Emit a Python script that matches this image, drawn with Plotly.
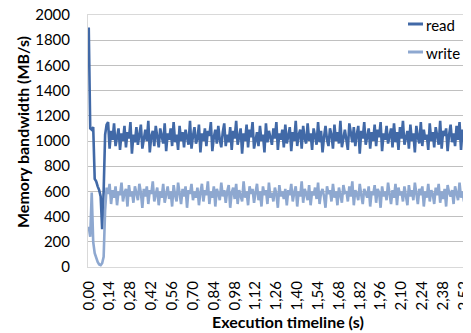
import plotly.graph_objects as go

SAMPLE_STEP = 0.01  # seconds between samples

read_mbps = [
    1900, 1100, 1090, 1110, 700, 680, 640, 610, 560, 300, 600, 1050, 1130,
    1150, 940, 1080, 1010, 1140, 960, 1040, 1100, 930, 1060, 1000, 1120, 950, 1070, 1020, 1150, 900, 1050, 990, 1110,
    970, 1060, 1130, 940, 1020, 1090, 1000, 1160, 910, 1040, 1080, 960, 1120, 1010, 950, 1100, 1030, 980, 1140, 920,
    1060, 1010, 1100, 960, 1150, 990, 1050, 930, 1120, 1000, 1070, 950, 1090, 1030, 970, 1160, 940, 1040, 1110, 980,
    1020, 1130, 910, 1060, 1000, 1100, 960, 1080, 1040, 1150, 920, 1030, 1090, 980, 1120, 1010, 950, 1070, 1140, 960,
    1050, 990, 1110, 930, 1080, 1020, 1160, 970, 1040, 1100, 900, 1060, 1000, 1130, 950, 1090, 1030, 1150, 940, 1010,
    1070, 960, 1120, 1000, 1050, 910, 1140, 990, 1080, 1030, 970, 1100, 1020, 1150, 930, 1060, 1010, 1090, 950, 1130,
    980, 1040, 1110, 920, 1070, 1000, 1160, 960, 1050, 1090, 940, 1120, 1020, 980, 1140, 1000, 1060, 930, 1100, 1040,
    970, 1150, 990, 1080, 910, 1030, 1120, 1010, 960, 1100, 1050, 940, 1130, 1000, 1070, 980, 1160, 950, 1040, 1090,
    1010, 930, 1140, 1060, 990, 1110, 960, 1050, 1120, 900, 1080, 1020, 1150, 970, 1040, 1100, 940, 1070, 1000, 1130,
    960, 1090, 1030, 1150, 920, 1060, 1010, 1120, 980, 1050, 1100, 950, 1140, 990, 1070, 930, 1110, 1020, 1160, 970,
    1040, 1080, 940, 1130, 1000, 1060, 910, 1120, 1030, 980, 1150, 960, 1090, 1010, 1050, 930, 1140, 1000, 1070, 950,
    1110, 1020, 970, 1160, 940, 1080, 1040, 1100, 920, 1050, 1130, 990, 1060, 960, 1120, 1010, 1150, 930, 1090, 1000,
    1140, 960, 1070, 1030, 1110,
]

write_mbps = [
    320, 240, 590, 200, 110, 70, 40, 20, 15, 30, 80, 450, 630,
    580, 660, 500, 610, 550, 640, 490, 600, 570, 670, 520, 590, 620, 480, 650, 560, 600, 510, 640, 580,
    530, 660, 590, 470, 620, 560, 640, 500, 610, 580, 680, 520, 570, 630, 490, 600, 550, 660, 510, 590,
    640, 540, 600, 480, 650, 570, 520, 670, 590, 500, 620, 560, 640, 470, 610, 580, 660, 530, 600, 550,
    630, 490, 590, 660, 520, 610, 570, 680, 500, 600, 550, 640, 480, 620, 580, 530, 670, 560, 610, 510,
    600, 650, 470, 590, 630, 540, 660, 500, 610, 570, 520, 680, 550, 600, 490, 640, 580, 620, 510, 590,
    660, 530, 600, 480, 640, 570, 610, 500, 670, 550, 590, 520, 630, 580, 470, 650, 560, 600, 540, 620,
    490, 610, 570, 660, 520, 590, 640, 480, 600, 560, 680, 510, 620, 580, 530, 650, 490, 600, 570, 630,
    540, 670, 500, 590, 620, 560, 470, 640, 580, 610, 520, 660, 550, 600, 490, 630, 570, 510, 650, 590,
    600, 520, 640, 560, 680, 490, 610, 580, 530, 660, 570, 500, 620, 590, 550, 640, 480, 600, 570, 650,
    510, 620, 590, 470, 640, 560, 600, 530, 670, 580, 500, 610, 550, 660, 490, 630, 570, 600, 520, 640,
    580, 490, 650, 560, 610, 530, 670, 590, 500, 620, 570, 640, 480, 600, 550, 660, 520, 610, 580, 500,
    630, 570, 660, 510, 600, 540, 620, 480, 650, 590, 560, 610, 500, 640, 580, 530, 670, 550, 600, 520,
    640, 560, 600, 490, 620,
]

time_s = [round(i * SAMPLE_STEP, 2) for i in range(len(read_mbps))]

series_names = ["read", "write"]
series_colors = ["#4169A7", "#8EA8D0"]

FONT = "Lato"
PAGE_OFF = 8                      # default body margin of the html page
WIN_W, WIN_H = 471, 333
W, H = WIN_W - PAGE_OFF, WIN_H - PAGE_OFF
# plot area in window pixels: left 88, top 15, bottom 267, right = window edge
ML = 88 - PAGE_OFF
MT = 15 - PAGE_OFF
MR = 0
MB = H - (267 - PAGE_OFF)
PW, PH = W - ML - MR, H - MT - MB


def px_x(p):
    return (p - PAGE_OFF - ML) / PW


def px_y(p):
    return 1 - (p - PAGE_OFF - MT) / PH


fig = go.Figure()
for name, vals, col in zip(series_names, [read_mbps, write_mbps], series_colors):
    fig.add_trace(go.Scatter(x=time_s, y=vals, mode="lines", name=name,
                             line=dict(color=col, width=2.6), showlegend=False))

# manual legend (keys + labels) in the upper right
for name, col, ypix in zip(series_names, series_colors, [24, 52]):
    fig.add_shape(type="line", xref="paper", yref="paper",
                  x0=px_x(408), x1=px_x(423), y0=px_y(ypix), y1=px_y(ypix),
                  line=dict(color=col, width=3))
    fig.add_annotation(xref="paper", yref="paper", x=px_x(424), y=px_y(ypix + 1),
                       text=name, showarrow=False, xanchor="left", yanchor="middle",
                       font=dict(family=FONT, size=15, color="#000000"))

fig.add_annotation(xref="paper", yref="paper", x=px_x(288), y=px_y(321),
                   text="<b>Execution timeline (s)</b>", showarrow=False,
                   xanchor="center", yanchor="middle",
                   font=dict(family=FONT, size=16, color="#000000"))
fig.add_annotation(xref="paper", yref="paper", x=px_x(22), y=px_y(132),
                   text="<b>Memory bandwidth (MB/s)</b>", showarrow=False, textangle=-90,
                   xanchor="center", yanchor="middle",
                   font=dict(family=FONT, size=16, color="#000000"))

fig.update_layout(
    width=W, height=H,
    margin=dict(l=ML, r=MR, t=MT, b=MB, autoexpand=False),
    paper_bgcolor="white", plot_bgcolor="white",
    separators=",.",
    font=dict(family=FONT, size=15, color="#000000"),
)
fig.update_xaxes(range=[-0.005, 2.567], tick0=0, dtick=0.14, tickformat=".2f",
                 tickangle=-90, showgrid=False, zeroline=False,
                 showline=True, linecolor="#D9D9D9", linewidth=1, mirror=True,
                 ticks="", ticklabelstandoff=7, automargin=False,
                 ticklabeloverflow="allow",
                 tickfont=dict(family=FONT, size=15, color="#000000"))
fig.update_yaxes(range=[0, 2000], dtick=200, showgrid=True, gridcolor="#C0C0C0",
                 gridwidth=1, zeroline=False,
                 showline=True, linecolor="#D9D9D9", linewidth=1, mirror=True,
                 ticks="", ticklabelstandoff=14, automargin=False,
                 ticklabeloverflow="allow",
                 tickfont=dict(family=FONT, size=15, color="#000000"))

fig.write_html("out.html")
